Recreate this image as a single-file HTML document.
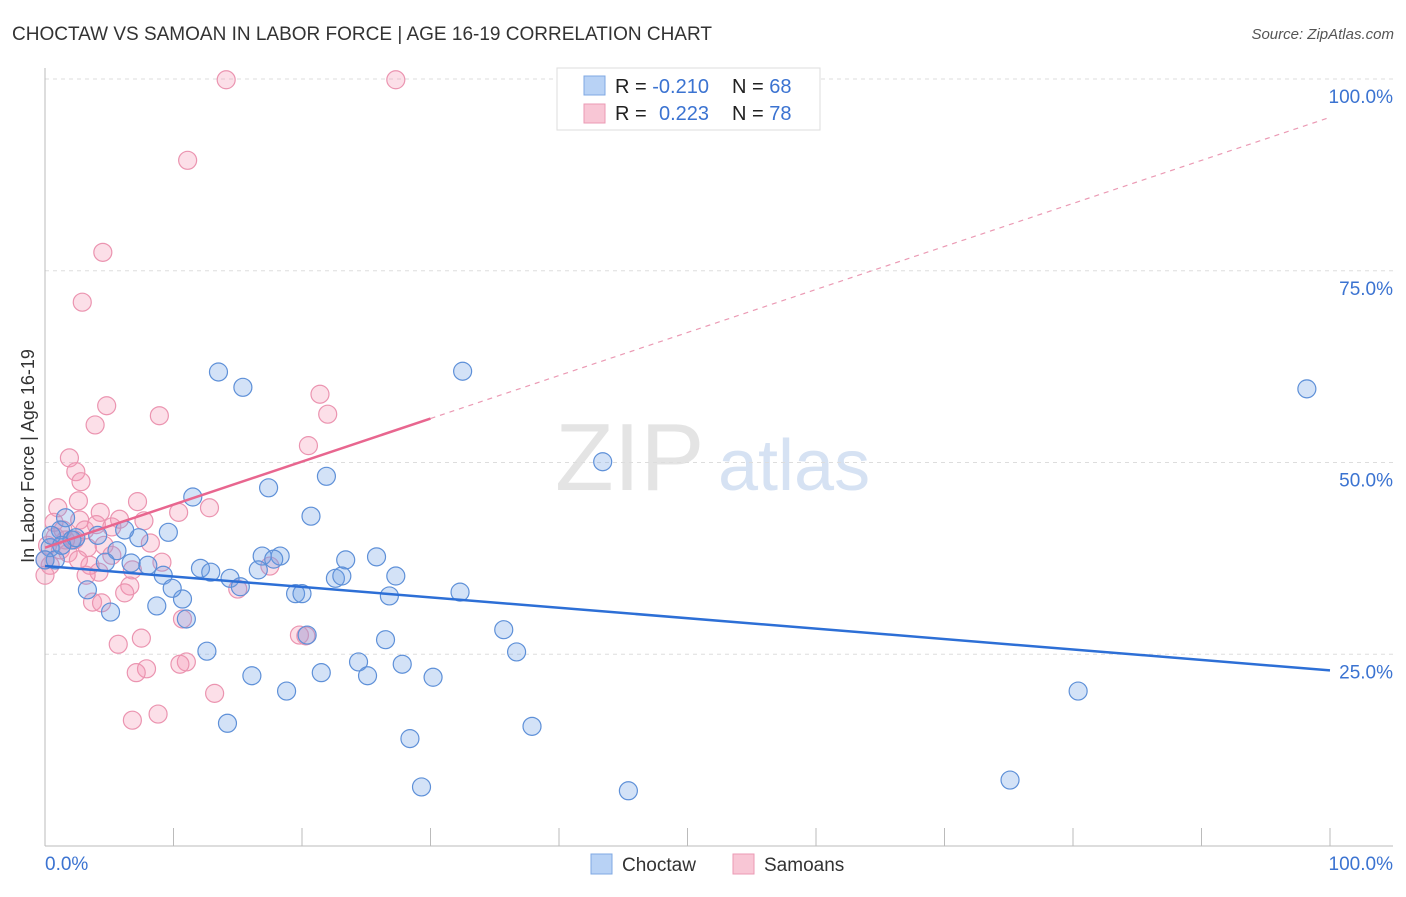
<!DOCTYPE html>
<html><head><meta charset="utf-8"><style>
body{margin:0;background:#fff;font-family:"Liberation Sans",sans-serif;}
svg text{font-family:"Liberation Sans",sans-serif;}
</style></head><body>
<svg id="c" width="1406" height="892">
<text x="12" y="40" font-size="19" fill="#333">CHOCTAW VS SAMOAN IN LABOR FORCE | AGE 16-19 CORRELATION CHART</text>
<text x="1394" y="39" font-size="15" fill="#555" font-style="italic" text-anchor="end">Source: ZipAtlas.com</text>
<text x="555" y="490" font-size="96" fill="#e4e4e4" font-family="Liberation Serif">ZIP</text>
<text x="718" y="490" font-size="72" fill="#d6e2f3">atlas</text>
<text transform="translate(34,456) rotate(-90)" font-size="18" fill="#333" text-anchor="middle">In Labor Force | Age 16-19</text>
<g id="grid"></g><g id="pts"></g><g id="lines"></g>
<g>
<rect x="557" y="68" width="263" height="62" fill="#fff" stroke="#ddd"/>
<rect x="584" y="76" width="21" height="19" fill="#b8d2f5" stroke="#7fa8e3"/>
<rect x="584" y="104" width="21" height="19" fill="#f8c6d5" stroke="#eb9ab4"/>
<text x="615" y="93" font-size="20" fill="#222">R = <tspan fill="#3b73d1">-0.210</tspan><tspan x="732">N = </tspan><tspan fill="#3b73d1">68</tspan></text>
<text x="615" y="120" font-size="20" fill="#222">R = <tspan x="659" fill="#3b73d1">0.223</tspan><tspan x="732">N = </tspan><tspan fill="#3b73d1">78</tspan></text>
</g>
<g>
<rect x="591" y="854" width="21" height="20" fill="#b8d2f5" stroke="#7fa8e3"/>
<text x="622" y="871" font-size="19" fill="#333">Choctaw</text>
<rect x="733" y="854" width="21" height="20" fill="#f8c6d5" stroke="#eb9ab4"/>
<text x="764" y="871" font-size="19" fill="#333">Samoans</text>
</g>
<text x="45" y="870" font-size="19" fill="#3b73d1">0.0%</text>
<text x="1393" y="870" font-size="19" fill="#3b73d1" text-anchor="end">100.0%</text>
</svg>
<script>
const blueX=[13.5,15.4,32.5,98.2,43.4,11.5,17.4,21.9,20.7,9.6,7.3,5.6,6.2,16.9,18.3,17.8,23.4,25.8,12.1,12.9,14.4,16.6,9.2,8.0,6.7,4.7,3.3,8.7,10.7,9.9,15.2,19.5,20.0,22.6,23.1,27.3,26.8,32.3,5.1,11.0,20.4,26.5,35.7,36.7,12.6,24.4,27.8,16.1,21.5,25.1,30.2,18.8,80.4,14.2,37.9,28.4,75.1,29.3,45.4,1.6,1.2,2.1,0.4,0.8,2.4,4.1,0.5,1.3,0];
const blueY=[61.8,59.8,61.9,59.6,50.1,45.5,46.7,48.2,43.0,40.9,40.2,38.5,41.2,37.8,37.8,37.4,37.3,37.7,36.2,35.7,34.9,36.0,35.3,36.6,36.9,37.0,33.4,31.3,32.2,33.6,33.8,32.9,32.9,34.9,35.2,35.2,32.6,33.1,30.5,29.6,27.5,26.9,28.2,25.3,25.4,24.0,23.7,22.2,22.6,22.2,22.0,20.2,20.2,16.0,15.6,14.0,8.6,7.7,7.2,42.8,41.2,39.9,38.9,37.3,40.2,40.5,40.5,39.2,37.3];
const pinkX=[14.1,27.3,11.1,4.5,2.9,4.8,8.9,22.0,21.4,3.9,20.5,1.9,2.4,2.8,2.6,7.2,12.8,10.4,1.0,4.3,5.8,7.7,4.0,5.2,8.2,1.4,0.8,2.1,0.2,3.3,4.6,1.2,1.8,0,0.4,3.5,4.2,6.8,9.1,17.5,3.2,6.6,6.2,15.0,3.7,4.4,10.7,19.8,20.3,7.5,5.7,7.9,7.1,11.0,10.5,13.2,6.8,8.8,0,2.7,1.6,0.7,2.3,3.1,5.2,2.6];
const pinkY=[99.9,99.9,89.4,77.4,70.9,57.4,56.1,56.3,58.9,54.9,52.2,50.6,48.8,47.5,45.0,44.9,44.1,43.5,44.1,43.5,42.6,42.4,41.9,41.6,39.5,41.2,40.3,39.9,39.2,38.9,39.2,38.6,38.2,37.3,36.6,36.6,35.7,36.0,37.0,36.5,35.3,33.9,33.0,33.5,31.8,31.7,29.6,27.5,27.4,27.1,26.3,23.1,22.6,24.0,23.7,19.9,16.4,17.2,35.3,42.5,39.9,42.2,39.9,41.2,37.9,37.3];
const yTicks=[100,75,50,25];
const yTickLabels=["100.0%","75.0%","50.0%","25.0%"];
const xTicks=[0,10,20,30,40,50,60,70,80,90,100];
const blueTrend=[36.5,22.9];
const pinkTrend=[38.9,95.0];
const pinkSolidEnd=30;
const X=v=>45+v*12.85, Y=v=>846-v*7.67;
const NS="http://www.w3.org/2000/svg";
function mk(t,a,p){const e=document.createElementNS(NS,t);for(const k in a)e.setAttribute(k,a[k]);p.appendChild(e);return e;}
const g=document.getElementById('grid');
yTicks.forEach((t,i)=>{
 const l=mk('line',{x1:45,x2:1393,y1:Y(t),y2:Y(t),stroke:'#ddd','stroke-dasharray':'4,4'},g);
 
 
 const tx=mk('text',{x:1393,y:Y(t)+24,'font-size':19,fill:'#3b73d1','text-anchor':'end'},g);
 tx.textContent=yTickLabels[i];
 
 
});
const ax=mk('line',{x1:45,x2:45,y1:68,y2:846,stroke:'#bbb'},g);


const bx=mk('line',{x1:45,x2:1393,y1:846,y2:846,stroke:'#bbb'},g);


xTicks.forEach(t=>{
 const l=mk('line',{x1:X(t),x2:X(t),y1:828,y2:846,stroke:'#bbb'},g);
 
 
});
const p=document.getElementById('pts');
pinkX.forEach((v,i)=>{
 const c=mk('circle',{cx:X(v),cy:Y(pinkY[i]),r:9,fill:'rgba(244,150,180,0.3)',stroke:'#eb94b0','stroke-width':1.2},p);
 
 
});
blueX.forEach((v,i)=>{
 const c=mk('circle',{cx:X(v),cy:Y(blueY[i]),r:9,fill:'rgba(110,160,230,0.3)',stroke:'#5e90d8','stroke-width':1.2},p);
 
 
});
const L=document.getElementById('lines');
const bl=mk('line',{x1:X(0),y1:Y(blueTrend[0]),x2:X(100),y2:Y(blueTrend[1]),stroke:'#2d6fd6','stroke-width':2.5},L);


const pe=pinkTrend[0]+(pinkTrend[1]-pinkTrend[0])*pinkSolidEnd/100;
const pl=mk('line',{x1:X(0),y1:Y(pinkTrend[0]),x2:X(pinkSolidEnd),y2:Y(pe),stroke:'#e8668f','stroke-width':2.5},L);


const pd=mk('line',{x1:X(pinkSolidEnd),y1:Y(pe),x2:X(100),y2:Y(pinkTrend[1]),stroke:'#eb9ab4','stroke-width':1.2,'stroke-dasharray':'5,5'},L);


</script>
</body></html>
